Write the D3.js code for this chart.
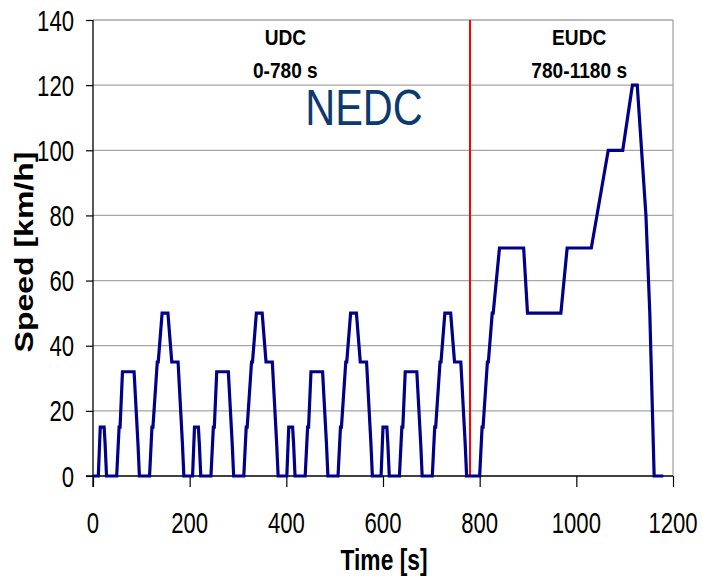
<!DOCTYPE html>
<html>
<head>
<meta charset="utf-8">
<script src="https://cdn.jsdelivr.net/npm/d3@7"></script>
<style>
html,body{margin:0;padding:0;background:#fff;}
svg{display:block;}
</style>
</head>
<body>
<svg id="chart" width="702" height="578"></svg>
<script>
// ---- data (NEDC speed profile) ----
const timeS = [
  0,11,15,23,25,28,49,54,56,61,85,93,96,117,122,124,133,135,143,155,163,176,185,188,
  195,206,210,218,220,223,244,249,251,256,280,288,291,312,317,319,328,330,338,350,358,371,380,383,
  390,401,405,413,415,418,439,444,446,451,475,483,486,507,512,514,523,525,533,545,553,566,575,578,
  585,596,600,608,610,613,634,639,641,646,670,678,681,702,707,709,718,720,728,740,748,761,770,773,
  780,800,805,807,816,818,826,828,841,891,899,968,981,1031,1066,1096,1116,1126,1144,1152,1161,1180
];
const speedKmh = [
  0,0,15,15,10,0,0,15,15,32,32,10,0,0,15,15,35,35,50,50,35,35,10,0,
  0,0,15,15,10,0,0,15,15,32,32,10,0,0,15,15,35,35,50,50,35,35,10,0,
  0,0,15,15,10,0,0,15,15,32,32,10,0,0,15,15,35,35,50,50,35,35,10,0,
  0,0,15,15,10,0,0,15,15,32,32,10,0,0,15,15,35,35,50,50,35,35,10,0,
  0,0,15,15,35,35,50,50,70,70,50,50,70,70,100,100,120,120,80,50,0,0
];
const phaseBoundary = [780];
const xTickValues = [0,200,400,600,800,1000,1200];
const yTickValues = [0,20,40,60,80,100,120,140];
const phaseLabels = [
  {line1: "UDC", line2: "0-780 s", t: 400},
  {line1: "EUDC", line2: "780-1180 s", t: 1008}
];
const chartTitle = "NEDC";
const xTitle = "Time [s]";
const yTitle = "Speed [km/h]";

// ---- layout ----
const svg = d3.select("#chart");
const L = 93, R = 673, T = 20, B = 476;
const x = d3.scaleLinear().domain([0,1200]).range([L,R]);
const y = d3.scaleLinear().domain([0,140]).range([B,T]);
const FONT = "'Liberation Sans', Arial, sans-serif";

// gridlines
svg.append("g").selectAll("line").data(yTickValues.filter(v=>v>0)).join("line")
  .attr("x1",L).attr("x2",R).attr("y1",d=>y(d)).attr("y2",d=>y(d))
  .attr("stroke","#a6a6a6").attr("stroke-width",1.3);
// right border
svg.append("line").attr("x1",R).attr("x2",R).attr("y1",T).attr("y2",B)
  .attr("stroke","#a6a6a6").attr("stroke-width",1.3);

// y axis
const yAxis = svg.append("g").attr("transform",`translate(${L},0)`)
  .call(d3.axisLeft(y).tickValues(yTickValues).tickSize(7).tickFormat(""));
yAxis.select(".domain").remove();
yAxis.selectAll(".tick line").attr("stroke","#000").attr("stroke-width",1.2);
svg.append("line").attr("x1",L).attr("x2",L).attr("y1",T).attr("y2",B+11)
  .attr("stroke","#000").attr("stroke-width",1.3);

// x axis
const xAxis = svg.append("g").attr("transform",`translate(0,${B})`)
  .call(d3.axisBottom(x).tickValues(xTickValues).tickSize(11).tickFormat(""));
xAxis.select(".domain").remove();
xAxis.selectAll(".tick line").attr("stroke","#000").attr("stroke-width",1.2);
svg.append("line").attr("x1",L-7).attr("x2",R).attr("y1",B).attr("y2",B)
  .attr("stroke","#000").attr("stroke-width",1.3);

// tick labels (horizontally condensed like the reference)
svg.append("g").selectAll("text").data(yTickValues).join("text")
  .attr("transform",d=>`translate(74,${y(d)+10.5}) scale(0.75,1)`)
  .attr("text-anchor","end").attr("font-family",FONT).attr("font-size",29.5)
  .attr("fill","#000").text(d=>d);
svg.append("g").selectAll("text").data(xTickValues).join("text")
  .attr("transform",d=>`translate(${x(d)},533) scale(0.75,1)`)
  .attr("text-anchor","middle").attr("font-family",FONT).attr("font-size",29.5)
  .attr("fill","#000").text(d=>d);

// axis titles
svg.append("text").attr("transform","translate(384,570) scale(0.76,1)")
  .attr("text-anchor","middle").attr("font-family",FONT).attr("font-weight","bold")
  .attr("font-size",30).attr("fill","#000").text(xTitle);
svg.append("text").attr("transform","translate(33,252) scale(0.78,1) rotate(-90)")
  .attr("text-anchor","middle").attr("font-family",FONT).attr("font-weight","bold")
  .attr("font-size",32).attr("fill","#000").text(yTitle);

// phase boundary (red)
svg.append("g").selectAll("line").data(phaseBoundary).join("line")
  .attr("x1",d=>x(d)).attr("x2",d=>x(d)).attr("y1",T).attr("y2",B)
  .attr("stroke","#ff0000").attr("stroke-width",2);

// speed trace
const pts = timeS.map((t,i)=>[t,speedKmh[i]]);
svg.append("path").datum(pts)
  .attr("d",d3.line().x(d=>x(d[0])).y(d=>y(d[1])))
  .attr("fill","none").attr("stroke","#000088").attr("stroke-width",3.2)
  .attr("stroke-linejoin","miter");

// phase labels
const pl = svg.append("g");
pl.selectAll("text.l1").data(phaseLabels).join("text").attr("class","l1")
  .attr("transform",d=>`translate(${x(d.t)-1},45) scale(0.85,1)`)
  .attr("text-anchor","middle").attr("font-family",FONT).attr("font-weight","bold")
  .attr("font-size",22.5).attr("fill","#000").text(d=>d.line1);
pl.selectAll("text.l2").data(phaseLabels).join("text").attr("class","l2")
  .attr("transform",d=>`translate(${x(d.t)-1},78) scale(0.85,1)`)
  .attr("text-anchor","middle").attr("font-family",FONT).attr("font-weight","bold")
  .attr("font-size",22.5).attr("fill","#000").text(d=>d.line2);

// title
svg.append("text").attr("transform","translate(364,125) scale(0.83,1)")
  .attr("text-anchor","middle").attr("font-family",FONT)
  .attr("font-size",50).attr("fill","#0d3a6e").text(chartTitle);
</script>
</body>
</html>
